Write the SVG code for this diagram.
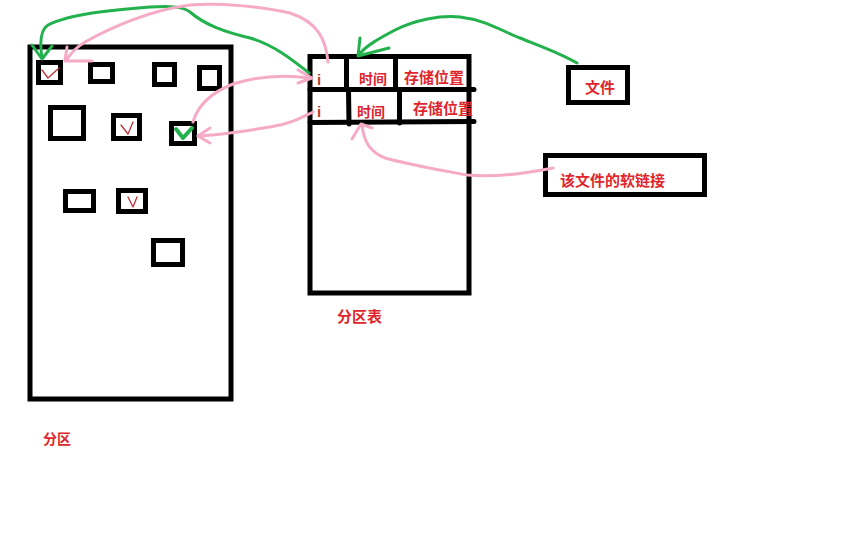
<svg xmlns="http://www.w3.org/2000/svg" width="850" height="545" viewBox="0 0 850 545">
<defs>
<style>
.box{fill:none;stroke:#000;stroke-width:5}
.ln{fill:none;stroke:#000;stroke-width:5;stroke-linecap:round}
.t{font-family:"Noto Sans CJK SC","Noto Sans",sans-serif;font-weight:bold;fill:#e0262c}
.ti{font-family:"Liberation Sans","Noto Sans",sans-serif;font-weight:bold;fill:#b8402a;font-size:15px}
.pink{fill:none;stroke:#f5aac6;stroke-width:3;stroke-linecap:round;stroke-linejoin:round}
.green{fill:none;stroke:#22b14c;stroke-width:3;stroke-linecap:round;stroke-linejoin:round}
.chk{fill:none;stroke:#c0303a;stroke-width:1.3;stroke-linecap:round;stroke-linejoin:round}
</style>
</defs>
<rect width="850" height="545" fill="#fff"/>

<g id="partition">
<rect class="box" x="30" y="47" width="201" height="352"/>
<text class="t" x="43" y="444" font-size="14">分区</text>
</g>
<g id="block1"><rect class="box" x="38.5" y="62.5" width="22" height="20"/><path class="chk" d="M42 70 L48 78 L59 68"/></g>
<g id="block2"><rect class="box" x="90.5" y="64.5" width="22" height="17"/></g>
<g id="block3"><rect class="box" x="154.5" y="64.5" width="20" height="20"/></g>
<g id="block4"><rect class="box" x="199.5" y="67.5" width="20" height="21"/></g>
<g id="block5"><rect class="box" x="50.5" y="107.5" width="33" height="31"/></g>
<g id="block6"><rect class="box" x="113.5" y="115.5" width="26" height="23"/><path class="chk" d="M121 125 L128 134 L133 122"/></g>
<g id="block7"><rect class="box" x="171.5" y="123.5" width="23" height="20"/><path fill="none" stroke="#22b14c" stroke-width="4" stroke-linecap="round" stroke-linejoin="round" d="M176 129 L183 138 L192 128"/></g>
<g id="block8"><rect class="box" x="65.5" y="191.5" width="28" height="19"/></g>
<g id="block9"><rect class="box" x="118.5" y="190.5" width="27" height="21"/><path class="chk" d="M128 197 L133 207 L137 197"/></g>
<g id="block10"><rect class="box" x="153.5" y="240.5" width="29" height="24"/></g>

<g id="partition-table">
<rect class="box" x="310" y="56.5" width="159" height="236.5"/>
<path class="ln" d="M310 89.5 L474 89.5"/>
<path class="ln" d="M310 122.5 L474 121.5"/>
<path class="ln" d="M346.5 57 L346.5 89"/>
<path class="ln" d="M348.5 90 L349 124"/>
<path class="ln" d="M395.5 57 L395.5 89"/>
<path class="ln" d="M399.5 90 L399.5 123"/>
<text class="ti" x="317" y="85">i</text>
<text class="t" x="359" y="84" font-size="14">时间</text>
<text class="t" x="404" y="83" font-size="15">存储位置</text>
<text class="ti" x="317" y="117">i</text>
<text class="t" x="357" y="117" font-size="14">时间</text>
<text class="t" x="413" y="114" font-size="15">存储位置</text>
<text class="t" x="337" y="322" font-size="15">分区表</text>
</g>

<g id="file">
<rect class="box" x="568.5" y="67.5" width="59" height="35"/>
<text class="t" x="585" y="93" font-size="15">文件</text>
</g>

<g id="softlink">
<rect class="box" x="545.5" y="155.5" width="159" height="39"/>
<text class="t" x="560" y="186" font-size="15">该文件的软链接</text>
</g>

<g id="connectors">
<path class="green" d="M309 73 C295 62 275 45 250 38 C225 32 205 25 190 12 C182 6 170 6 150 7 C110 10 70 14 48 25 C40 30 40 45 42 58"/>
<path class="green" d="M32 45 L42 59 L52 46"/>
<path class="pink" d="M328 62 C326 40 318 22 290 13 C260 6 220 3 190 5 C150 10 110 28 85 42 C75 48 70 54 66 61"/>
<path class="pink" d="M67 47 L65 61 L92 61"/>
<path class="pink" d="M193 122 C198 105 210 93 233 84 C255 77 280 74 310 78"/>
<path class="pink" d="M298 70 L312 78 L298 83"/>
<path class="pink" d="M313 112 C300 118 290 124 270 127 C245 131 220 135 198 136"/>
<path class="pink" d="M210 128 L198 136 L210 143"/>
<path class="green" d="M577 63 C560 53 540 46 520 38 C500 30 485 20 460 17 C440 15 415 20 395 30 C380 38 365 46 359 55"/>
<path class="green" d="M360 38 L358 56 L389 48"/>
<path class="pink" d="M553 168 C530 172 500 178 467 175 C440 170 410 165 385 158 C370 152 364 142 362 125"/>
<path class="pink" d="M352 139 L361 124 L372 128"/>
</g>
</svg>
